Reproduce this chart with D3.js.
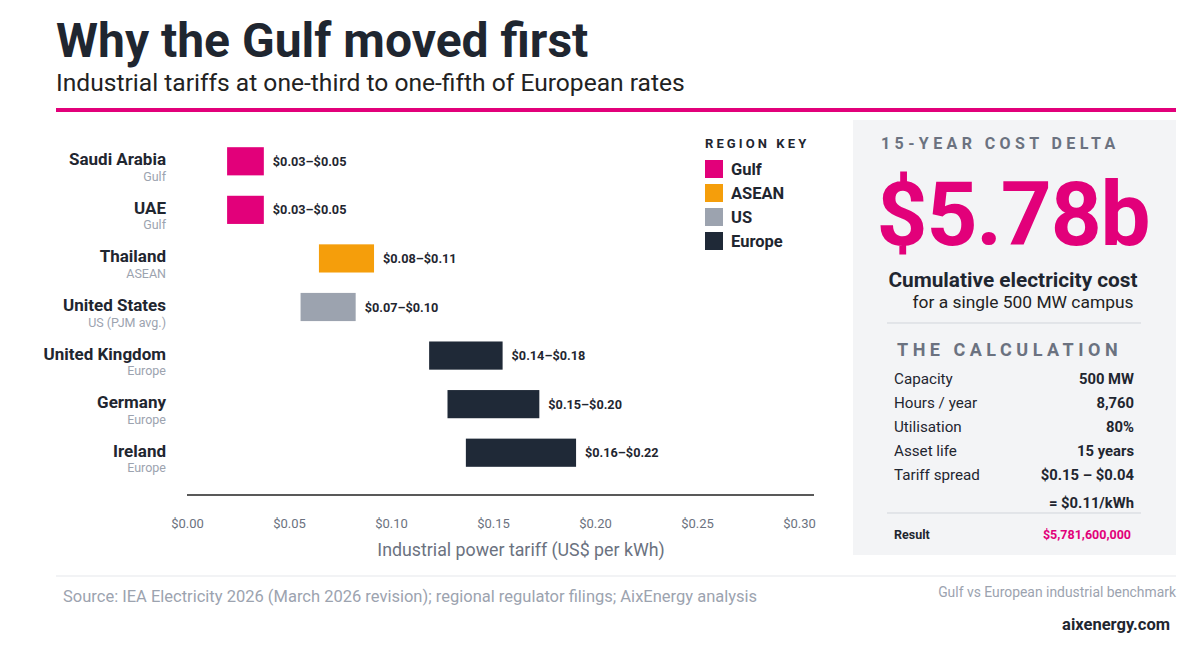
<!DOCTYPE html>
<html>
<head>
<meta charset="utf-8">
<script src="https://cdn.jsdelivr.net/npm/d3@7"></script>
<style>
  html, body { margin: 0; padding: 0; background: #fff; }
  svg { display: block; font-family: Roboto, "Noto Sans", sans-serif; }
</style>
</head>
<body>
<svg id="chart" width="1200" height="662"></svg>
<script>
// --- data ---
const countries = ["Saudi Arabia", "UAE", "Thailand", "United States", "United Kingdom", "Germany", "Ireland"];
const regions = ["Gulf", "Gulf", "ASEAN", "US", "Europe", "Europe", "Europe"];
const regionNotes = ["Gulf", "Gulf", "ASEAN", "US (PJM avg.)", "Europe", "Europe", "Europe"];
const lowValues = [0.03, 0.03, 0.08, 0.07, 0.14, 0.15, 0.16];
const highValues = [0.05, 0.05, 0.11, 0.10, 0.18, 0.20, 0.22];
const rangeLabels = ["$0.03\u2013$0.05", "$0.03\u2013$0.05", "$0.08\u2013$0.11", "$0.07\u2013$0.10",
                     "$0.14\u2013$0.18", "$0.15\u2013$0.20", "$0.16\u2013$0.22"];
const tickValues = [0, 0.05, 0.10, 0.15, 0.20, 0.25, 0.30];

const keyRegions = ["Gulf", "ASEAN", "US", "Europe"];
const keyColors = ["#e2007a", "#f59e0b", "#9ca3af", "#1f2937"];

const calcLabels = ["Capacity", "Hours / year", "Utilisation", "Asset life", "Tariff spread", ""];
const calcValues = ["500 MW", "8,760", "80%", "15 years", "$0.15 \u2013 $0.04", "= $0.11/kWh"];

const svg = d3.select("#chart");
const ink = "#1f2630";
const pink = "#e2007a";

// --- header ---
svg.append("text").attr("x", 56).attr("y", 57)
  .attr("font-size", 48).attr("font-weight", 700).attr("fill", ink)
  .text("Why the Gulf moved first");
svg.append("text").attr("x", 56).attr("y", 91)
  .attr("font-size", 24.6).attr("fill", "#222")
  .text("Industrial tariffs at one-third to one-fifth of European rates");
svg.append("rect").attr("x", 56).attr("y", 108).attr("width", 1120).attr("height", 4).attr("fill", pink);

// --- bars ---
const color = d3.scaleOrdinal().domain(keyRegions).range(keyColors);
const x = d3.scaleLinear().domain([0, 0.30]).range([172, 723]);
const xTicks = d3.scaleLinear().domain([0, 0.30]).range([187, 799]);
const y = d3.scaleBand().domain(countries).range([137, 477]).paddingInner(0.42).paddingOuter(0.21);

const rows = countries.map((c, i) => ({
  country: c, region: regions[i], note: regionNotes[i],
  lo: lowValues[i], hi: highValues[i], label: rangeLabels[i]
}));

const row = svg.append("g").selectAll("g").data(rows).enter().append("g");

row.append("rect")
  .attr("x", d => x(d.lo))
  .attr("y", d => y(d.country))
  .attr("width", d => x(d.hi) - x(d.lo))
  .attr("height", y.bandwidth())
  .attr("fill", d => color(d.region));

row.append("text")
  .attr("x", d => x(d.hi) + 9)
  .attr("y", d => y(d.country) + y.bandwidth() / 2 + 4.5)
  .attr("font-size", 12.7).attr("font-weight", 700).attr("fill", ink)
  .text(d => d.label);

row.append("text")
  .attr("x", 166)
  .attr("y", d => y(d.country) + y.bandwidth() / 2 + 4)
  .attr("text-anchor", "end")
  .attr("font-size", 17).attr("font-weight", 700).attr("fill", ink)
  .text(d => d.country);

row.append("text")
  .attr("x", 166)
  .attr("y", d => y(d.country) + y.bandwidth() / 2 + 19.5)
  .attr("text-anchor", "end")
  .attr("font-size", 12.5).attr("fill", "#9ca3af")
  .text(d => d.note);

// --- axis ---
svg.append("line").attr("x1", 187).attr("x2", 814).attr("y1", 495).attr("y2", 495)
  .attr("stroke", "#222").attr("stroke-width", 1.5);

const axisG = svg.append("g").attr("transform", "translate(0,516)")
  .call(d3.axisBottom(xTicks).tickValues(tickValues).tickSize(0).tickFormat(d3.format("$.2f")));
axisG.select(".domain").remove();
axisG.selectAll("text").attr("font-family", "Roboto, sans-serif")
  .attr("font-size", 13).attr("fill", "#6b7280");

svg.append("text").attr("x", 521).attr("y", 556).attr("text-anchor", "middle")
  .attr("font-size", 17.8).attr("fill", "#6b7280")
  .text("Industrial power tariff (US$ per kWh)");

// --- region key ---
const key = svg.append("g").attr("transform", "translate(705,0)");
key.append("text").attr("x", 0).attr("y", 148)
  .attr("font-size", 13).attr("font-weight", 700).attr("letter-spacing", 3.1).attr("fill", ink)
  .text("REGION KEY");
const keyItem = key.selectAll("g.item").data(keyRegions).enter().append("g")
  .attr("transform", (d, i) => `translate(0,${160 + i * 24})`);
keyItem.append("rect").attr("width", 18).attr("height", 18).attr("fill", d => color(d));
keyItem.append("text").attr("x", 26).attr("y", 15)
  .attr("font-size", 16.5).attr("font-weight", 700).attr("fill", ink)
  .text(d => d);

// --- side panel ---
const panel = svg.append("g");
panel.append("rect").attr("x", 853).attr("y", 120).attr("width", 323).attr("height", 435).attr("fill", "#f3f4f6");
panel.append("text").attr("x", 881).attr("y", 149)
  .attr("font-size", 16).attr("font-weight", 700).attr("letter-spacing", 4.4).attr("fill", "#6b7280")
  .text("15-YEAR COST DELTA");
panel.append("text").attr("x", 1013).attr("y", 245).attr("text-anchor", "middle")
  .attr("font-size", 89).attr("font-weight", 700).attr("letter-spacing", -1.2).attr("fill", pink)
  .text("$5.78b");
panel.append("text").attr("x", 1013).attr("y", 287).attr("text-anchor", "middle")
  .attr("font-size", 20.8).attr("font-weight", 700).attr("fill", ink)
  .text("Cumulative electricity cost");
panel.append("text").attr("x", 1023).attr("y", 308).attr("text-anchor", "middle")
  .attr("font-size", 17.4).attr("fill", "#222")
  .text("for a single 500 MW campus");
panel.append("line").attr("x1", 887).attr("x2", 1141).attr("y1", 323).attr("y2", 323)
  .attr("stroke", "#d1d5db");
panel.append("text").attr("x", 897).attr("y", 356)
  .attr("font-size", 18).attr("font-weight", 700).attr("letter-spacing", 4.5).attr("fill", "#6b7280")
  .text("THE CALCULATION");

const calc = panel.selectAll("g.calc").data(calcLabels).enter().append("g")
  .attr("transform", (d, i) => `translate(0,${384 + i * 24 + (i === 5 ? 4 : 0)})`);
calc.append("text").attr("x", 894).attr("font-size", 15.2).attr("fill", ink).text(d => d);
calc.append("text").attr("x", 1134).attr("text-anchor", "end")
  .attr("font-size", 14.8).attr("font-weight", 700).attr("fill", ink)
  .text((d, i) => calcValues[i]);

panel.append("line").attr("x1", 887).attr("x2", 1141).attr("y1", 513).attr("y2", 513)
  .attr("stroke", "#d1d5db");
panel.append("text").attr("x", 894).attr("y", 539)
  .attr("font-size", 12.5).attr("font-weight", 700).attr("fill", ink).text("Result");
panel.append("text").attr("x", 1131).attr("y", 539).attr("text-anchor", "end")
  .attr("font-size", 12.5).attr("font-weight", 700).attr("fill", pink).text("$5,781,600,000");

// --- footer ---
svg.append("line").attr("x1", 56).attr("x2", 1176).attr("y1", 576).attr("y2", 576)
  .attr("stroke", "#e5e7eb");
svg.append("text").attr("x", 63).attr("y", 602)
  .attr("font-size", 16.5).attr("fill", "#9ca3af")
  .text("Source: IEA Electricity 2026 (March 2026 revision); regional regulator filings; AixEnergy analysis");
svg.append("text").attr("x", 1176).attr("y", 597).attr("text-anchor", "end")
  .attr("font-size", 13.9).attr("fill", "#9ca3af")
  .text("Gulf vs European industrial benchmark");
svg.append("text").attr("x", 1170).attr("y", 630).attr("text-anchor", "end")
  .attr("font-size", 16.5).attr("font-weight", 700).attr("fill", ink)
  .text("aixenergy.com");
</script>
</body>
</html>
